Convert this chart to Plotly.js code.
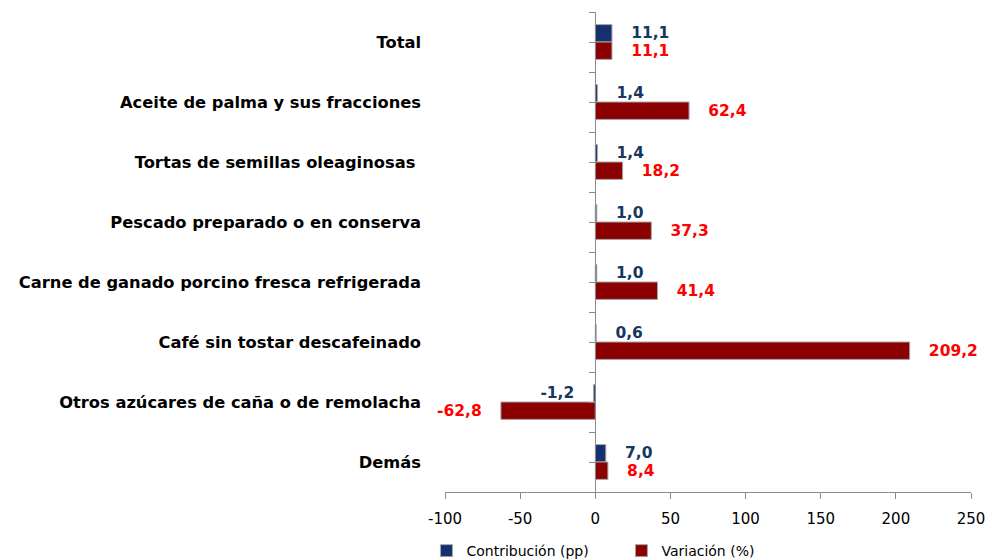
<!DOCTYPE html>
<html>
<head>
<meta charset="utf-8">
<script src="https://cdn.plot.ly/plotly-3.0.1.min.js"></script>
<style>html,body{margin:0;padding:0;background:#fff;}#chart{width:994px;height:560px;}</style>
</head>
<body>
<div id="chart"></div>
<script>
const categories = [
  "Total",
  "Aceite de palma y sus fracciones",
  "Tortas de semillas oleaginosas ",
  "Pescado preparado o en conserva",
  "Carne de ganado porcino fresca refrigerada",
  "Café sin tostar descafeinado",
  "Otros azúcares de caña o de remolacha",
  "Demás"
];
const contribucion = [11.1, 1.4, 1.4, 1.0, 1.0, 0.6, -1.2, 7.0];
const variacion = [11.1, 62.4, 18.2, 37.3, 41.4, 209.2, -62.8, 8.4];
const xTicks = [-100, -50, 0, 50, 100, 150, 200, 250];

const pad = '\u00a0\u00a0\u00a0';
function labels(vals) {
  return vals.map(v => {
    const s = v.toFixed(1).replace('.', ',');
    return v < 0 ? s + pad : pad + s;
  });
}

const font = "DejaVu Sans, Verdana, sans-serif";
const axisGray = '#8c8c8c';

const traces = [
  {
    type: 'bar', orientation: 'h', name: 'Contribución (pp)',
    y: categories, x: contribucion,
    marker: {color: '#15306f', line: {color: '#a6a6a6', width: 1}},
    text: labels(contribucion), textposition: 'outside', constraintext: 'none',
    cliponaxis: false,
    textfont: {family: font, size: 15.5, color: '#17375e', weight: 'bold'},
    hoverinfo: 'x+y'
  },
  {
    type: 'bar', orientation: 'h', name: 'Variación (%)',
    y: categories, x: variacion,
    marker: {color: '#8b0000', line: {color: '#a6a6a6', width: 1}},
    text: labels(variacion), textposition: 'outside', constraintext: 'none',
    cliponaxis: false,
    textfont: {family: font, size: 15.5, color: '#ff0000', weight: 'bold'},
    hoverinfo: 'x+y'
  },
  {
    type: 'scatter', mode: 'none', y: categories, x: categories.map(() => null),
    yaxis: 'y2', showlegend: false, hoverinfo: 'skip'
  }
];

const yPos = (0 - (-100)) / 350;

const layout = {
  width: 994, height: 560,
  margin: {l: 445, r: 23, t: 12, b: 68},
  paper_bgcolor: '#ffffff', plot_bgcolor: '#ffffff',
  separators: ',.',
  font: {family: font, size: 15, color: '#000000'},
  barmode: 'group', bargap: 0.42, bargroupgap: 0,
  showlegend: true,
  legend: {
    orientation: 'h', xref: 'container', yref: 'container',
    x: 0.429, xanchor: 'left', y: 0.016, yanchor: 'middle',
    font: {family: font, size: 14, color: '#000000'},
    itemwidth: 30, entrywidth: 150, entrywidthmode: 'pixels', tracegroupgap: 0
  },
  xaxis: {
    range: [-100, 250], tickvals: xTicks, ticktext: xTicks.map(String),
    showgrid: false, zeroline: false, showline: true, linecolor: axisGray, linewidth: 1,
    ticks: 'outside', ticklen: 6, tickcolor: axisGray, ticklabelstandoff: 7,
    tickfont: {family: font, size: 15, color: '#000000'}
  },
  yaxis: {
    type: 'category', categoryorder: 'array', categoryarray: categories,
    range: [7.5, -0.5], anchor: 'free', position: yPos,
    showgrid: false, zeroline: false, showline: true, linecolor: axisGray, linewidth: 1,
    ticks: 'outside', tickson: 'boundaries', ticklen: 6, tickcolor: axisGray,
    ticklabelstandoff: 171,
    tickfont: {family: font, size: 16.3, color: '#000000', weight: 'bold'},
    automargin: false
  },
  yaxis2: {
    type: 'category', categoryorder: 'array', categoryarray: categories,
    range: [7.5, -0.5], overlaying: 'y', anchor: 'free', position: yPos, side: 'left',
    showgrid: false, zeroline: false, showline: false,
    ticks: 'outside', tickson: 'labels', ticklen: 6, tickcolor: axisGray,
    showticklabels: false, automargin: false
  }
};

Plotly.newPlot('chart', traces, layout, {displayModeBar: false, staticPlot: true});
</script>
</body>
</html>
